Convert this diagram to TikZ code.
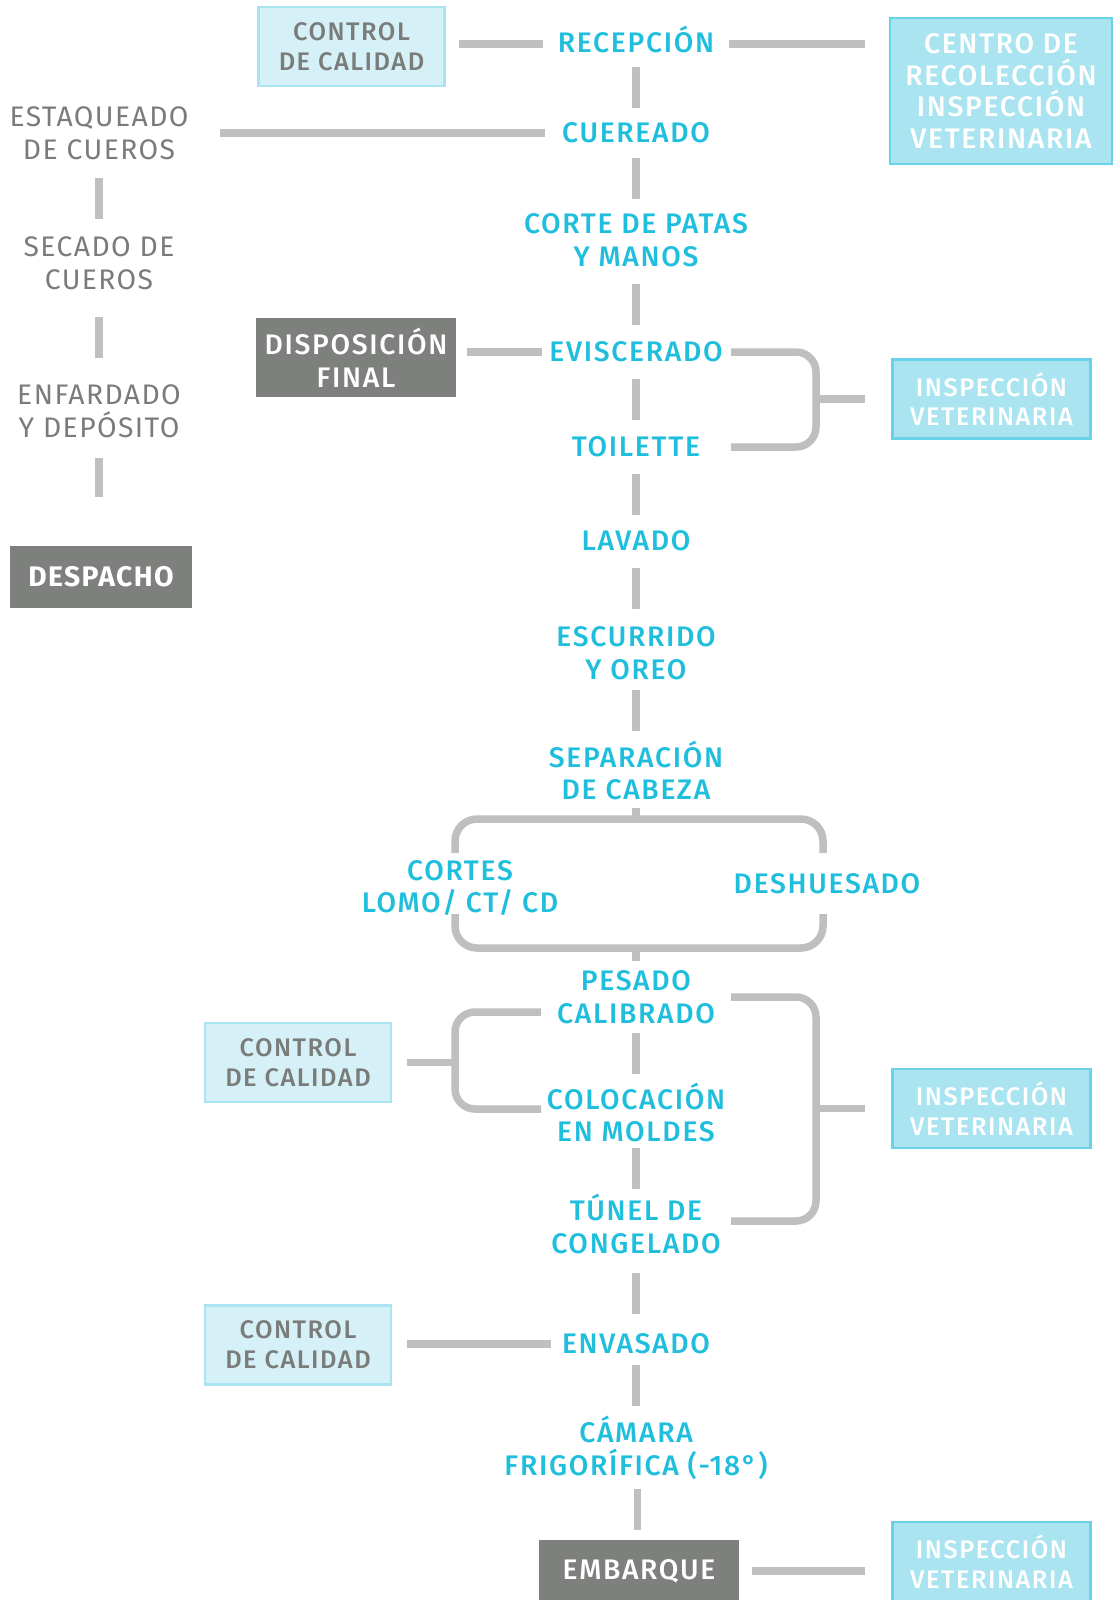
\documentclass[tikz,border=0pt]{standalone}
\usepackage{fontspec}
\setmainfont{Fira Sans}[LetterSpace=5]
\newfontfamily\medium{Fira Sans Medium}[LetterSpace=6]
\usetikzlibrary{calc}
\definecolor{stepC}{RGB}{32,190,221}
\definecolor{sideC}{RGB}{122,124,122}
\definecolor{darkF}{RGB}{125,128,124}
\definecolor{linkC}{RGB}{191,191,191}
\definecolor{ctrlF}{RGB}{213,241,247}
\definecolor{ctrlB}{RGB}{170,228,240}
\definecolor{inspF}{RGB}{170,228,240}
\definecolor{inspB}{RGB}{104,210,232}

\begin{document}
\begin{tikzpicture}[x=1pt, y=-1pt,
  stepn/.style={font=\medium\fontsize{28.3}{32.6}\selectfont, text=stepC, align=center, inner sep=0pt},
  side/.style={font=\fontsize{28.3}{32.6}\selectfont, text=sideC, align=center, inner sep=0pt},
  ctrl/.style={rectangle, draw=ctrlB, fill=ctrlF, line width=2.5pt, text=sideC, align=center,
               font=\medium\fontsize{25.4}{29.6}\selectfont, minimum width=186pt, minimum height=79pt, inner sep=0pt},
  insp/.style={ctrl, draw=inspB, fill=inspF, text=white, minimum width=198pt},
  dark/.style={rectangle, fill=darkF, text=white, align=center, inner sep=0pt,
               font=\medium\fontsize{28.3}{32.6}\selectfont},
  link/.style={draw=linkC, line width=7.5pt}]

  \useasboundingbox (0,0) rectangle (1112,1600);

  % main line
  \node[stepn] (recep) at (636,39) {RECEPCIÓN};
  \node[stepn] (cuer) at (636,133) {CUEREADO};
  \node[stepn] (corte) at (636,240) {CORTE DE PATAS\\Y MANOS};
  \node[stepn] (visc) at (636,352) {EVISCERADO};
  \node[stepn] (toil) at (636,447) {TOILETTE};
  \node[stepn] (lav) at (636,541) {LAVADO};
  \node[stepn] (escu) at (636,653) {ESCURRIDO\\Y OREO};
  \node[stepn] (sepa) at (636,770.5) {SEPARACIÓN\\DE CABEZA};
  \node[stepn] (cortes) at (460,888) {CORTES\\LOMO/ CT/ CD};
  \node[stepn] (deshu) at (827,884) {DESHUESADO};
  \node[stepn] (pesa) at (636,997) {PESADO\\CALIBRADO};
  \node[stepn] (colo) at (636,1112.5) {COLOCACIÓN\\EN MOLDES};
  \node[stepn] (tune) at (636,1224) {TÚNEL DE\\CONGELADO};
  \node[stepn] (enva) at (636,1344) {ENVASADO};
  \node[stepn] (cama) at (636,1448) {CÁMARA\\FRIGORÍFICA (-18°)};
  \node[dark, minimum width=200pt, minimum height=62pt] (emb) at (639,1571) {EMBARQUE};

  % hides
  \node[side] (esta) at (99,133) {ESTAQUEADO\\DE CUEROS};
  \node[side] (seca) at (99,263) {SECADO DE\\CUEROS};
  \node[side] (enfa) at (99,411) {ENFARDADO\\Y DEPÓSITO};
  \node[dark, font=\bfseries\fontsize{28.3}{32.6}\selectfont, minimum width=182pt, minimum height=62pt]
    (desp) at (101,577) {DESPACHO};

  % side boxes
  \node[ctrl] (ctrl1) at (351.5,46.5) {CONTROL\\DE CALIDAD};
  \node[insp, font=\medium\fontsize{28.3}{31.6}\selectfont, minimum width=222pt, minimum height=146pt]
    (centro) at (1001,91) {CENTRO DE\\RECOLECCIÓN\\INSPECCIÓN\\VETERINARIA};
  \node[dark, minimum width=200pt, minimum height=79pt] (disp) at (356,357.5) {DISPOSICIÓN\\FINAL};
  \node[insp] (insp1) at (991.5,399) {INSPECCIÓN\\VETERINARIA};
  \node[ctrl] (ctrl2) at (298,1062.5) {CONTROL\\DE CALIDAD};
  \node[insp] (insp2) at (991.5,1108.5) {INSPECCIÓN\\VETERINARIA};
  \node[ctrl] (ctrl3) at (298,1345) {CONTROL\\DE CALIDAD};
  \node[insp] (insp3) at (991.5,1561.5) {INSPECCIÓN\\VETERINARIA};

  % bracket points
  \coordinate (row) at (0,44);
  \coordinate (bs) at (731,0);
  \coordinate (bj) at (816,0);
  \coordinate (tl) at (455,819);
  \coordinate (tr) at (823,819);
  \coordinate (bl) at (455,948);
  \coordinate (br) at (823,948);
  \coordinate (q1) at (541,1012);
  \coordinate (q2) at (541,1109);
  \coordinate (qj) at (455,0);
  \coordinate (r2) at (731,1221);

  % vertical links
  \draw[link] ($(recep.south)!.5!(cuer.north)+(0,-20.5)$) -- ($(recep.south)!.5!(cuer.north)+(0,20.5)$);
  \draw[link] ($(cuer.south)!.5!(corte.north)+(0,-20.5)$) -- ($(cuer.south)!.5!(corte.north)+(0,20.5)$);
  \draw[link] ($(corte.south)!.5!(visc.north)+(0,-20.5)$) -- ($(corte.south)!.5!(visc.north)+(0,20.5)$);
  \draw[link] ($(visc.south)!.5!(toil.north)+(0,-20.5)$) -- ($(visc.south)!.5!(toil.north)+(0,20.5)$);
  \draw[link] ($(toil.south)!.5!(lav.north)+(0,-20.5)$) -- ($(toil.south)!.5!(lav.north)+(0,20.5)$);
  \draw[link] ($(lav.south)!.5!(escu.north)+(0,-20.5)$) -- ($(lav.south)!.5!(escu.north)+(0,20.5)$);
  \draw[link] ($(escu.south)!.5!(sepa.north)+(0,-20.5)$) -- ($(escu.south)!.5!(sepa.north)+(0,20.5)$);
  \draw[link] ($(pesa.south)!.5!(colo.north)+(0,-20.5)$) -- ($(pesa.south)!.5!(colo.north)+(0,20.5)$);
  \draw[link] ($(colo.south)!.5!(tune.north)+(0,-20.5)$) -- ($(colo.south)!.5!(tune.north)+(0,20.5)$);
  \draw[link] ($(tune.south)!.5!(enva.north)+(0,-20.5)$) -- ($(tune.south)!.5!(enva.north)+(0,20.5)$);
  \draw[link] ($(enva.south)!.5!(cama.north)+(0,-20.5)$) -- ($(enva.south)!.5!(cama.north)+(0,20.5)$);
  \draw[link] ($(cama.south)!.5!(emb.north)+(0,-20.5)$) -- ($(cama.south)!.5!(emb.north)+(0,20.5)$);
  \draw[link] ($(esta.south)!.5!(seca.north)+(0,-20.5)$) -- ($(esta.south)!.5!(seca.north)+(0,20.5)$);
  \draw[link] ($(seca.south)!.5!(enfa.north)+(0,-20.5)$) -- ($(seca.south)!.5!(enfa.north)+(0,20.5)$);
  \draw[link, shorten <=20pt, shorten >=49pt] (enfa.south) -- (enfa.south |- desp.north);

  % side links
  \draw[link, shorten <=13pt, shorten >=15pt] (ctrl1.east |- row) -- (recep.west |- row);
  \draw[link, shorten <=15pt, shorten >=24pt] (recep.east |- row) -- (centro.west |- row);
  \draw[link, shorten <=31pt, shorten >=17pt] (esta.east |- cuer) -- (cuer.west);
  \draw[link, shorten <=11pt, shorten >=7pt] (disp.east |- visc) -- (visc.west);
  \draw[link, shorten <=15pt, shorten >=11pt] (ctrl3.east |- enva) -- (enva.west);
  \draw[link, shorten <=13pt, shorten >=26pt] (emb.east) -- (emb.east -| insp3.west);

  % brackets
  \draw[link, rounded corners=20pt] (visc -| bs) -- (visc -| bj) -- (toil -| bj) -- (toil -| bs);
  \draw[link, shorten >=26pt] (insp1 -| bj) -- (insp1.west);
  \draw[link, rounded corners=22pt] ([yshift=-34pt]tl) -- (tl) -- (tr) -- ([yshift=-34pt]tr);
  \draw[link, rounded corners=22pt] ([yshift=34pt]bl) -- (bl) -- (br) -- ([yshift=34pt]br);
  \draw[link, shorten <=8pt] (sepa.south) -- (sepa.south |- tl);
  \draw[link, shorten >=9pt] (pesa.north |- bl) -- (pesa.north);
  \draw[link, rounded corners=20pt] (q1) -- (q1 -| qj) -- (q2 -| qj) -- (q2);
  \draw[link, shorten <=15pt] (ctrl2.east) -- (ctrl2.east -| qj);
  \draw[link, rounded corners=20pt] (pesa -| bs) -- (pesa -| bj) -- (r2 -| bj) -- (r2);
  \draw[link, shorten >=26pt] (insp2 -| bj) -- (insp2.west);
\end{tikzpicture}
\end{document}
